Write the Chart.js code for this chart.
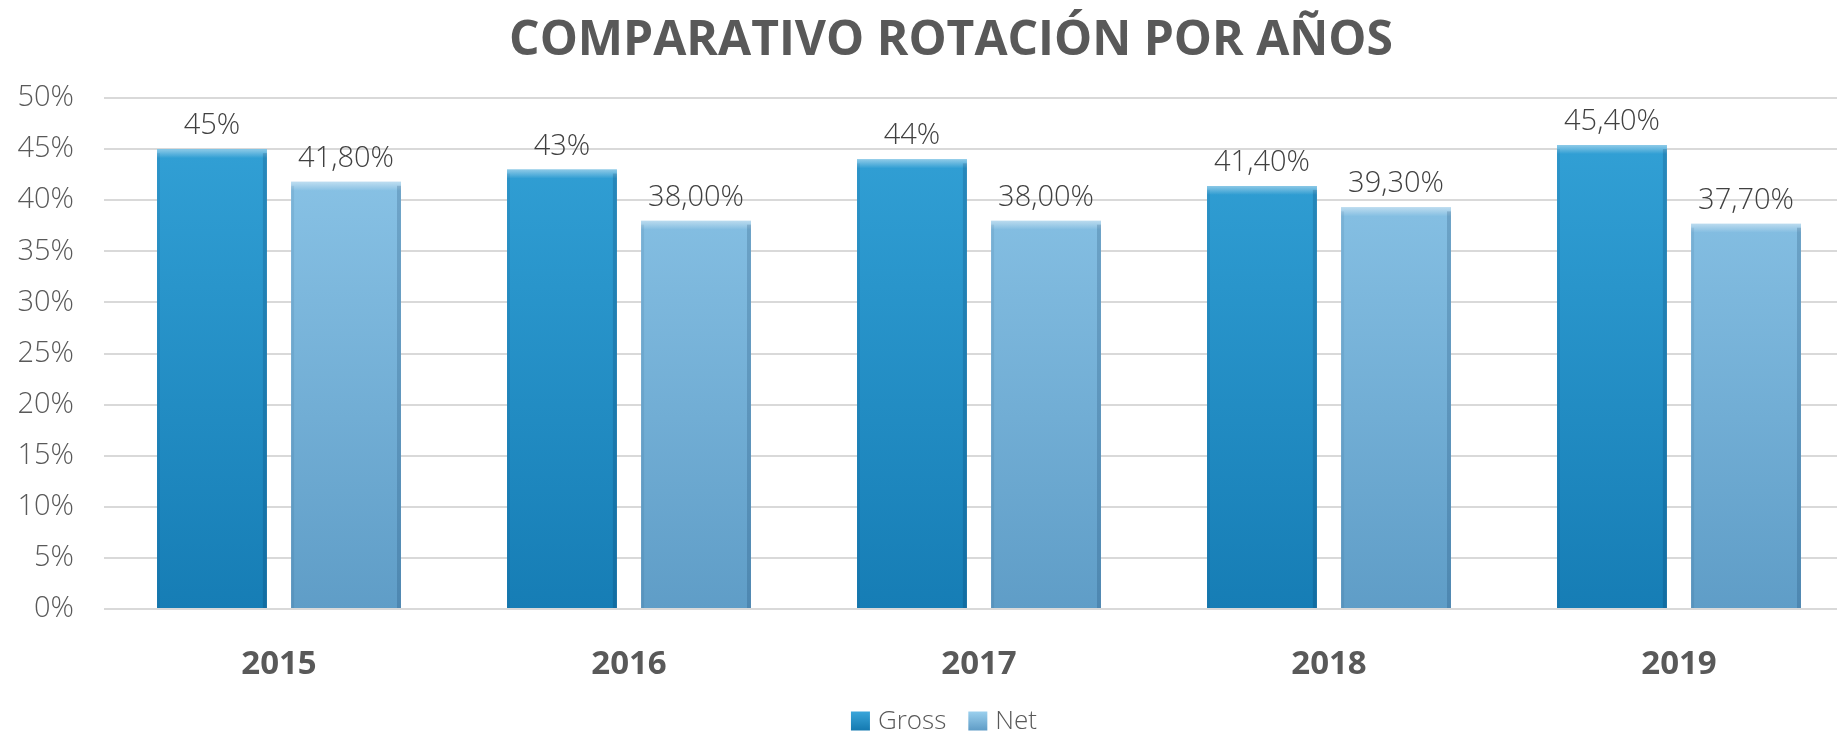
<!DOCTYPE html>
<html>
<head>
<meta charset="utf-8">
<script src="https://cdn.jsdelivr.net/npm/chart.js@4"></script>
<style>
  html, body { margin: 0; padding: 0; background: #fff; overflow: hidden; }
  #wrap { width: 1837px; height: 732px; overflow: hidden; }
</style>
</head>
<body>
<div id="wrap"><canvas id="chart" width="1895" height="732"></canvas></div>
<script>
// chart data
const years = ['2015', '2016', '2017', '2018', '2019'];
const gross = [45, 43, 44, 41.4, 45.4];
const net = [41.8, 38, 38, 39.3, 37.7];
const grossLabels = ['45%', '43%', '44%', '41,40%', '45,40%'];
const netLabels = ['41,80%', '38,00%', '38,00%', '39,30%', '37,70%'];
const yTicks = [0, 5, 10, 15, 20, 25, 30, 35, 40, 45, 50];

const TITLE = 'COMPARATIVO ROTACIÓN POR AÑOS';
const FONT = '"Open Sans", "DejaVu Sans", sans-serif';
const GREY = '#595959';

// vertical gradient over the plot area (lighter top, darker bottom)
function barFill(top, bottom) {
  return ctx => {
    const area = ctx.chart.chartArea;
    if (!area) return bottom;
    const g = ctx.chart.ctx.createLinearGradient(0, area.top, 0, area.bottom);
    g.addColorStop(0, top);
    g.addColorStop(1, bottom);
    return g;
  };
}

// title + legend drawn by hand, Excel style
const decor = {
  id: 'decor',
  afterDraw(chart) {
    const c = chart.ctx;
    c.save();
    c.fillStyle = GREY;
    c.font = 'bold 48px ' + FONT;
    c.textAlign = 'center';
    c.textBaseline = 'alphabetic';
    c.fillText(TITLE, 951, 55);

    // legend
    const items = [
      { text: 'Gross', top: '#3aa6da', bottom: '#1479b0' },
      { text: 'Net', top: '#9bd0ee', bottom: '#5f9cc6' }
    ];
    c.font = '300 26px ' + FONT;
    c.textAlign = 'left';
    c.textBaseline = 'middle';
    const box = 19, gap = 8, spacing = 22;
    const widths = items.map(i => box + gap + c.measureText(i.text).width);
    const total = widths.reduce((a, b) => a + b, 0) + spacing * (items.length - 1);
    let x = 944 - total / 2;
    const cy = 721;
    items.forEach((it, i) => {
      const g = c.createLinearGradient(0, cy - box / 2, 0, cy + box / 2);
      g.addColorStop(0, it.top);
      g.addColorStop(1, it.bottom);
      c.fillStyle = g;
      c.fillRect(x, cy - box / 2, box, box);
      c.fillStyle = GREY;
      c.fillText(it.text, x + box + gap, cy + 1);
      x += widths[i] + spacing;
    });
    c.restore();
  }
};

// bevel + value labels on top of each bar
const barDecor = {
  id: 'barDecor',
  afterDatasetsDraw(chart) {
    const c = chart.ctx;
    const labelSets = [grossLabels, netLabels];
    c.save();
    chart.data.datasets.forEach((ds, di) => {
      chart.getDatasetMeta(di).data.forEach((bar, i) => {
        const { x, y, base, width } = bar.getProps(['x', 'y', 'base', 'width'], true);
        const l = x - width / 2, r = x + width / 2;
        // top bevel
        const g = c.createLinearGradient(0, y, 0, y + 9);
        g.addColorStop(0, 'rgba(255,255,255,0.45)');
        g.addColorStop(1, 'rgba(255,255,255,0)');
        c.fillStyle = g;
        c.fillRect(l, y, width, 9);
        // side edges
        c.fillStyle = 'rgba(0,40,80,0.18)';
        c.fillRect(r - 4, y + 4, 4, base - y - 4);
        c.fillStyle = 'rgba(0,40,80,0.08)';
        c.fillRect(l, y + 4, 3, base - y - 4);
        // value label
        c.fillStyle = '#404040';
        c.font = '300 29px ' + FONT;
        c.textAlign = 'center';
        c.textBaseline = 'alphabetic';
        c.fillText(labelSets[di][i], x, y - 15);
      });
    });
    c.restore();
  }
};

new Chart(document.getElementById('chart'), {
  type: 'bar',
  data: {
    labels: years,
    datasets: [
      {
        label: 'Gross',
        data: gross,
        backgroundColor: barFill('#34a3d8', '#167db5'),
        borderWidth: 0,
        categoryPercentage: 0.766,
        barPercentage: 0.82
      },
      {
        label: 'Net',
        data: net,
        backgroundColor: barFill('#8fc8ea', '#5f9dc7'),
        borderWidth: 0,
        categoryPercentage: 0.766,
        barPercentage: 0.82
      }
    ]
  },
  options: {
    responsive: false,
    devicePixelRatio: 1,
    animation: false,
    layout: { padding: { top: 98, right: 41, left: 0, bottom: 0 } },
    plugins: {
      legend: { display: false },
      title: { display: false },
      tooltip: { enabled: false }
    },
    scales: {
      x: {
        grid: { display: false, drawTicks: false },
        border: { display: false },
        ticks: { color: GREY, font: { family: FONT, size: 33, weight: 'bold' }, padding: 36 },
        afterFit(scale) { scale.height = 123; }
      },
      y: {
        min: yTicks[0],
        max: yTicks[yTicks.length - 1],
        afterBuildTicks(scale) { scale.ticks = yTicks.map(v => ({ value: v })); },
        grid: { color: '#d9d9d9', lineWidth: 2, drawTicks: false },
        border: { display: false },
        ticks: {
          color: GREY,
          font: { family: FONT, size: 29, weight: '300' },
          padding: 30,
          callback: v => v + '%'
        },
        afterFit(scale) { scale.width = 104; }
      }
    }
  },
  plugins: [barDecor, decor]
});
</script>
</body>
</html>
